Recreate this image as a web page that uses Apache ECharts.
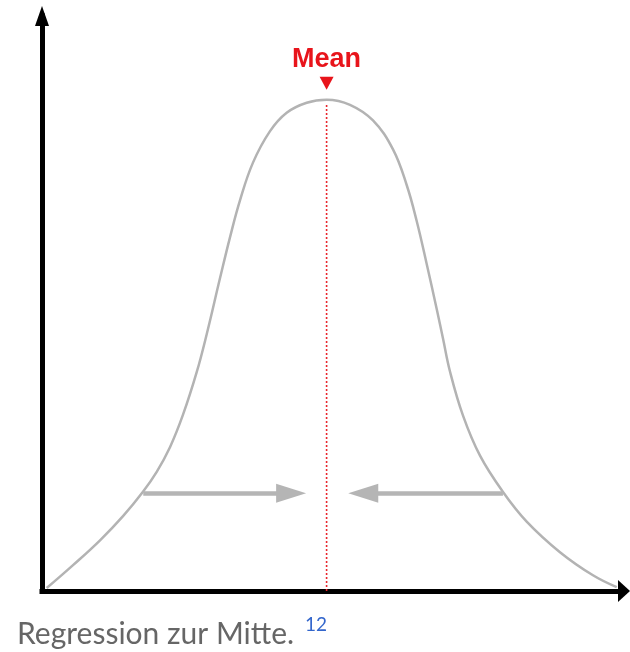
<!DOCTYPE html>
<html>
<head>
<meta charset="utf-8">
<script src="https://cdn.jsdelivr.net/npm/echarts@6/dist/echarts.min.js"></script>
<style>html,body{margin:0;padding:0;background:#fff;}#c{width:630px;height:652px;}</style>
</head>
<body>
<div id="c"></div>
<script>
// Bell curve (x: 0..100 along the axis, y: 0..100 up the axis)
const curveX = [0.81, 5.33, 9.97, 13.92, 17.35, 19.71, 21.99, 24.23, 26.58, 28.30, 30.58, 32.30, 34.02, 36.25, 39.18, 42.04, 45.48, 48.92, 52.92, 56.87, 60.31, 62.66, 64.38, 66.10, 67.82, 68.90, 70.10, 72.34, 75.26, 79.21, 83.28, 89.00, 94.67, 98.75];
const curveY = [0.52, 4.50, 8.82, 13.03, 17.27, 20.73, 25.01, 30.66, 38.05, 44.66, 54.38, 61.51, 67.95, 74.50, 79.98, 83.18, 84.92, 85.45, 84.56, 81.84, 76.80, 70.61, 64.35, 56.87, 49.04, 43.90, 38.17, 30.49, 23.53, 17.22, 12.07, 6.75, 2.73, 0.66];
// Mean
const meanX = 48.9;
const meanLineTop = 84.7;
const meanMarkerY = 88.3;
const meanLabel = 'Mean';
// Arrows toward the middle: [startX, headX] at arrowY
const leftArrow = [17.4, 42.8];
const rightArrow = [79.2, 55.2];
const arrowY = 17.0;
// Caption
const captionText = 'Regression zur Mitte.';
const footnoteText = '12';

const chart = echarts.init(document.getElementById('c'), null, {renderer: 'canvas'});
const curveData = curveX.map((x, i) => [x, curveY[i]]);

chart.setOption({
  animation: false,
  backgroundColor: '#ffffff',
  title: [
    {text: captionText, left: 17, top: 617, padding: 0,
     textStyle: {fontFamily: 'Lato', fontSize: 30, fontWeight: 'normal', color: '#666666', lineHeight: 34}},
    {text: footnoteText, left: 305, top: 615, padding: 0,
     textStyle: {fontFamily: 'Lato', fontSize: 19, fontWeight: 'normal', color: '#3366cc', lineHeight: 20}}
  ],
  grid: {left: 42, right: 6, top: 16, bottom: 61, containLabel: false},
  xAxis: {
    type: 'value', min: 0, max: 100,
    axisLine: {show: true, onZero: false, symbol: ['none', 'triangle'], symbolSize: [22, 12],
      lineStyle: {color: '#000', width: 5, cap: 'square'}},
    axisTick: {show: false}, axisLabel: {show: false}, splitLine: {show: false}
  },
  yAxis: {
    type: 'value', min: 0, max: 100,
    axisLine: {show: true, onZero: false, symbol: ['none', 'triangle'], symbolSize: [14, 20],
      lineStyle: {color: '#000', width: 5, cap: 'square'}},
    axisTick: {show: false}, axisLabel: {show: false}, splitLine: {show: false}
  },
  series: [
    {
      type: 'line', data: [[meanX, 0], [meanX, meanLineTop]], symbol: 'none', silent: true,
      lineStyle: {color: '#e8262d', width: 1.6, type: [2, 2]}, z: 2
    },
    {
      type: 'line', data: curveData, smooth: 0.4, symbol: 'none', silent: true,
      lineStyle: {color: '#b3b3b3', width: 2.5}, z: 3,
      markLine: {
        silent: true, animation: false,
        symbol: ['none', 'triangle'], symbolSize: [19, 30],
        label: {show: false},
        lineStyle: {color: '#b5b5b5', width: 4.5, type: 'solid'},
        data: [
          [{coord: [leftArrow[0], arrowY]}, {coord: [leftArrow[1], arrowY]}],
          [{coord: [rightArrow[0], arrowY]}, {coord: [rightArrow[1], arrowY]}]
        ]
      }
    },
    {
      type: 'scatter', data: [[meanX, meanMarkerY]], symbol: 'triangle', symbolRotate: 180,
      symbolSize: [14, 13], itemStyle: {color: '#e8141b', opacity: 1}, silent: true, z: 5,
      label: {show: true, position: 'top', distance: 4, formatter: meanLabel,
        fontFamily: 'Liberation Sans', fontSize: 27, fontWeight: 'bold', color: '#e8141b'}
    }
  ]
});
</script>
</body>
</html>
